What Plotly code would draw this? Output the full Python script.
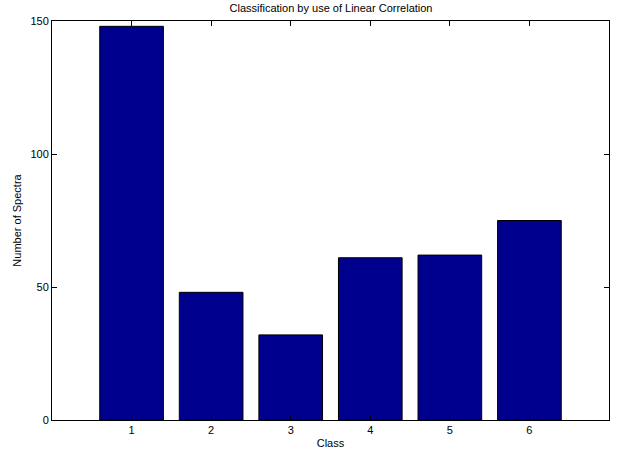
import plotly.graph_objects as go

classes = [1, 2, 3, 4, 5, 6]
counts = [148, 48, 32, 61, 62, 75]
y_ticks = [0, 50, 100, 150]

font = dict(family="Liberation Sans, Arial, sans-serif", size=11, color="black")

fig = go.Figure(
    go.Bar(
        x=classes,
        y=counts,
        width=0.8,
        marker=dict(color="#00008F", line=dict(color="black", width=1)),
    )
)

axis_common = dict(
    showline=True,
    linecolor="black",
    linewidth=1,
    mirror="ticks",
    ticks="inside",
    ticklen=5,
    tickcolor="black",
    showgrid=False,
    zeroline=False,
    tickfont=font,
)

left, right = 52, 7
fig.update_layout(
    width=617,
    height=455,
    margin=dict(l=left, r=right, t=21, b=33),
    paper_bgcolor="white",
    plot_bgcolor="white",
    font=font,
    showlegend=False,
    title=dict(
        text="Classification by use of Linear Correlation",
        x=0.5 + (left - right) / 2 / 617,
        xanchor="center",
        y=1 - 8 / 455,
        yanchor="middle",
        font=dict(size=11),
    ),
    xaxis=dict(
        range=[0, 7],
        tickvals=classes,
        ticktext=[str(c) for c in classes],
        title=dict(text="Class", standoff=4, font=font),
        **axis_common,
    ),
    yaxis=dict(
        range=[0, 150],
        tickvals=y_ticks,
        title=dict(text="Number of Spectra", standoff=6, font=font),
        **axis_common,
    ),
)

fig.write_html("out.html")
